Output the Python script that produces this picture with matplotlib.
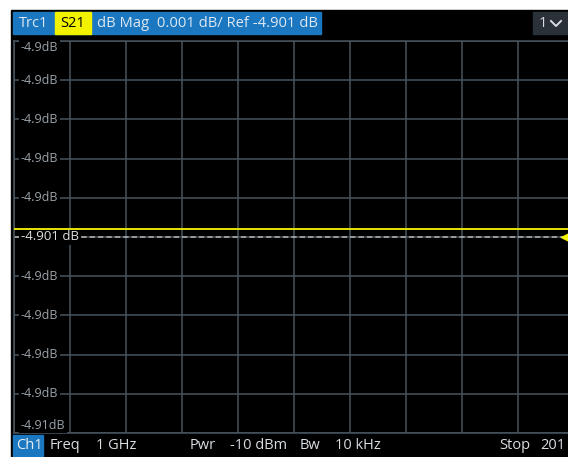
import numpy as np
import matplotlib
matplotlib.use("Agg")
import matplotlib.pyplot as plt
from matplotlib.patches import Rectangle

# trace data (sweep in grid divisions, level in dB)
sweep_div = [0, 10]
trace_db = [-4.9008, -4.9008]
ref_db = -4.901
ref_marker_div = 9.86

y_ticks = [-4.896, -4.897, -4.898, -4.899, -4.900, -4.901,
           -4.902, -4.903, -4.904, -4.905, -4.906]
y_labels = ["-4.9dB", "-4.9dB", "-4.9dB", "-4.9dB", "-4.9dB", "-4.901 dB",
            "-4.9dB", "-4.9dB", "-4.9dB", "-4.9dB", "-4.91dB"]
x_ticks = [0, 1, 2, 3, 4, 5, 6, 7, 8, 9, 10]

header_items = ["Trc1", "S21", "dB Mag  0.001 dB/ Ref -4.901 dB"]
footer_items = [("Freq", 50), ("1 GHz", 96), ("Pwr", 190), ("-10 dBm", 230),
                ("Bw", 300), ("10 kHz", 335), ("Stop", 499), ("201", 540)]

plt.rcParams['font.family'] = ['Open Sans', 'DejaVu Sans']

W, H = 568, 457
fig = plt.figure(figsize=(W / 100, H / 100), dpi=100, facecolor='white')

# background / panels in pixel coordinates
bg = fig.add_axes([0, 0, 1, 1])
bg.set_xlim(0, W)
bg.set_ylim(H, 0)
bg.axis('off')
bg.add_patch(Rectangle((11, 10), W - 11, H - 10, color='black'))
blue = '#1b77c0'
bg.add_patch(Rectangle((13, 12), 308, 22, color=blue))
bg.add_patch(Rectangle((55, 12), 36, 22, color='#f2f200'))
bg.add_patch(Rectangle((533, 12), 35, 22, color='#2a3139'))
bg.text(19, 23.5, header_items[0], color='#dde8f2', fontsize=10.5, va='center')
bg.text(60, 23.5, header_items[1], color='black', fontsize=10.5, va='center')
bg.text(97, 23.5, header_items[2], color='#dde8f2', fontsize=10.6, va='center')
bg.text(539, 23.5, "1", color='#d8dde2', fontsize=10.5, va='center')
bg.plot([551, 556, 561], [21, 26, 21], color='#d8dde2', lw=1.4)

bg.add_patch(Rectangle((13, 435), 30, 21, color=blue))
bg.text(16, 445.5, "Ch1", color='#e8eef4', fontsize=10.5, va='center')
for txt, x in footer_items:
    bg.text(x, 445.5, txt, color='#d8dde2', fontsize=10.5, va='center')

# diagram area
left, right, top, bottom = 14, 574, 41, 433
ax = fig.add_axes([left / W, (H - bottom) / H, (right - left) / W, (bottom - top) / H])
ax.set_facecolor('none')
ax.set_xlim(x_ticks[0], x_ticks[-1])
ax.set_ylim(y_ticks[-1], y_ticks[0])
ax.set_xticks(x_ticks)
ax.set_yticks(y_ticks)
ax.tick_params(length=0, labelleft=False, labelbottom=False)
ax.grid(True, color='#46545f', lw=1.1)
for s in ax.spines.values():
    s.set_color('#46545f')
    s.set_linewidth(1.1)

ax.plot(sweep_div, trace_db, color='#e6e600', lw=1.4, zorder=7)
ax.axhline(ref_db, color='#b4b4b4', lw=1.1, ls=(0, (3.5, 2)), zorder=2)
ax.plot([ref_marker_div], [ref_db], marker='<', color='#f5f500', ms=7, zorder=8,
        clip_on=False)

for i, (v, lab) in enumerate(zip(y_ticks, y_labels)):
    if i == 0:
        dy = -7
    elif i == len(y_ticks) - 1:
        dy = 8
    else:
        dy = 0
    col = '#e0e0e0' if v == ref_db else '#9ba3aa'
    fs = 9.5 if v == ref_db else 9
    ax.annotate(lab, (0, v), xytext=(7 / 1.389, dy / 1.389), textcoords='offset points',
                color=col, fontsize=fs, va='center', ha='left', zorder=5,
                bbox=dict(boxstyle='square,pad=0.15', fc='black', ec='none'))

fig.savefig('out.png', dpi=100, facecolor='white')
